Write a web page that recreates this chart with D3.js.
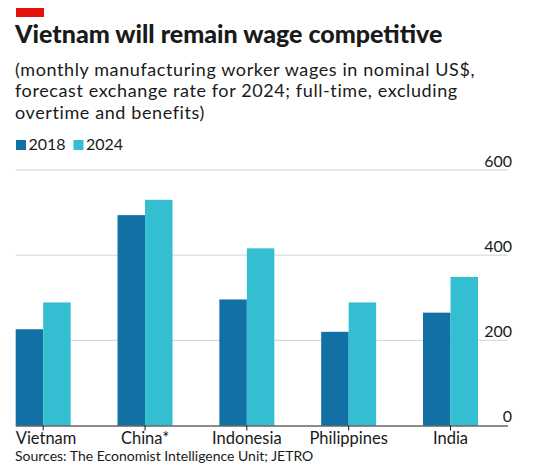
<!DOCTYPE html>
<html>
<head>
<meta charset="utf-8">
<script src="https://cdn.jsdelivr.net/npm/d3@7"></script>
<style>
  html, body { margin: 0; padding: 0; background: #fff; }
  svg { display: block; }
  text { font-family: "Lato", "Open Sans", sans-serif; fill: #1a1a1a; }
</style>
</head>
<body>
<script>
// Monthly manufacturing worker wages, nominal US$
const countries = ["Vietnam", "China*", "Indonesia", "Philippines", "India"];
const seriesNames = ["2018", "2024"];
const wages2018 = [226, 494, 296, 220, 265];
const wages2024 = [289, 530, 416, 289, 349];
const yTicks = [0, 200, 400, 600];

const width = 539, height = 464;
const colors = { "2018": "#1270a5", "2024": "#33bfd1" };

const svg = d3.select("body").append("svg")
  .attr("width", width).attr("height", height);

// Header
svg.append("rect").attr("x", 16).attr("y", 8).attr("width", 28).attr("height", 9)
  .attr("fill", "#e3120b");
svg.append("text").attr("x", 15).attr("y", 43)
  .style("font-size", "25px").style("font-weight", 900)
  .text("Vietnam will remain wage competitive");

const subtitle = [
  "(monthly manufacturing worker wages in nominal US$,",
  "forecast exchange rate for 2024; full-time, excluding",
  "overtime and benefits)"
];
svg.append("g").selectAll("text").data(subtitle).join("text")
  .attr("x", 15).attr("y", (d, i) => 75.5 + i * 21.6)
  .style("font-size", "18px").style("letter-spacing", "0.6px")
  .text(d => d);

// Legend
const legend = svg.append("g").selectAll("g").data(seriesNames).join("g")
  .attr("transform", (d, i) => `translate(${16 + i * 57.5},0)`);
legend.append("rect").attr("x", 0).attr("y", 140).attr("width", 10).attr("height", 10)
  .attr("fill", d => colors[d]);
legend.append("text").attr("x", 12.5).attr("y", 150)
  .style("font-size", "16px").text(d => d);

// Scales
const plotLeft = 15.7, plotRight = 508;
const x0 = d3.scaleBand().domain(countries).range([plotLeft, 478])
  .paddingInner(0.46).paddingOuter(0);
const x1 = d3.scaleBand().domain(seriesNames).range([0, x0.bandwidth()]);
const y = d3.scaleLinear().domain([0, 600]).range([425.5, 170]);

// Gridlines
svg.append("g").selectAll("line").data(yTicks.filter(d => d > 0)).join("line")
  .attr("x1", plotLeft).attr("x2", plotRight)
  .attr("y1", d => y(d)).attr("y2", d => y(d))
  .attr("stroke", "#c8d5dc").attr("stroke-width", 1);

// Y axis labels (right side, above gridlines)
const yAxis = d3.axisRight(y).tickValues(yTicks).tickSize(0).tickFormat(d3.format("d"));
const ya = svg.append("g").attr("transform", `translate(${plotRight + 4},0)`).call(yAxis);
ya.select(".domain").remove();
ya.selectAll("text")
  .attr("x", 0).attr("dy", "-0.25em")
  .attr("text-anchor", "end")
  .style("font-size", "16px").style("font-family", "Lato, sans-serif").attr("fill", "#1a1a1a");

// Bars
const rows = countries.map((c, i) => ({ country: c, values: [
  { key: "2018", value: wages2018[i] },
  { key: "2024", value: wages2024[i] }
]}));
svg.append("g").selectAll("g").data(rows).join("g")
  .attr("transform", d => `translate(${x0(d.country)},0)`)
  .selectAll("rect").data(d => d.values).join("rect")
  .attr("x", d => x1(d.key))
  .attr("width", x1.bandwidth())
  .attr("y", d => y(d.value))
  .attr("height", d => y(0) - y(d.value))
  .attr("fill", d => colors[d.key]);

// X axis
const xAxis = d3.axisBottom(x0).tickSize(5).tickSizeOuter(0);
const xa = svg.append("g").attr("transform", `translate(0,${y(0)})`).call(xAxis);
xa.select(".domain").attr("d", `M${plotLeft},0.5H${plotRight}`).attr("stroke", "#1a1a1a");
xa.selectAll(".tick line").attr("stroke", "#1a1a1a");
xa.selectAll("text")
  .attr("y", 18).attr("dy", null)
  .style("font-size", "16.5px").style("font-family", "Lato, sans-serif").attr("fill", "#1a1a1a")
  .filter(d => d === countries[0])
  .attr("text-anchor", "start")
  .attr("x", plotLeft - x0.bandwidth() / 2 - x0(countries[0]));

// Source
svg.append("text").attr("x", 15).attr("y", 461)
  .style("font-size", "14px").attr("fill", "#4d4d4d")
  .text("Sources: The Economist Intelligence Unit; JETRO");
</script>
</body>
</html>
